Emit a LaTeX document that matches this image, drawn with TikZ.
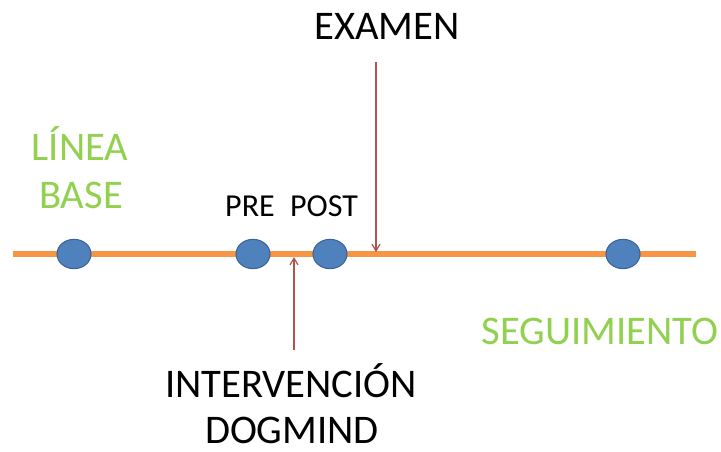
\documentclass[tikz,border=0pt]{standalone}
\usepackage{fontspec}
\setmainfont{Carlito}
\usetikzlibrary{shapes.geometric,arrows.meta}
\definecolor{lineorange}{HTML}{F79646}
\definecolor{dotblue}{HTML}{4F81BD}
\definecolor{dotedge}{HTML}{3A6494}
\definecolor{arrowred}{HTML}{B4504E}
\definecolor{labelgreen}{HTML}{92D050}
\tikzset{
  dot/.style={ellipse, fill=dotblue, draw=dotedge, line width=0.8pt, minimum width=25.5pt, minimum height=22pt, inner sep=0pt},
  pointer/.style={draw=arrowred, line width=0.9pt, -{Straight Barb[length=5pt,width=6pt]}},
  biglabel/.style={font=\fontsize{30.5}{33}\selectfont, anchor=base, inner sep=0pt},
  smalllabel/.style={font=\fontsize{24}{26}\selectfont, anchor=base, inner sep=0pt},
}
\begin{document}
\begin{tikzpicture}[x=0.75pt,y=-0.75pt]
\useasboundingbox (0,0) rectangle (721,451);
% timeline
\coordinate (lstart) at (13,254);
\coordinate (lend) at (696,254);
\draw[lineorange, line width=4.5pt] (lstart) -- (lend);
% dots
\node[dot] (d1) at (74,254) {};
\node[dot] (d2) at (253,254) {};
\node[dot] (d3) at (330,254) {};
\node[dot] (d4) at (623,254) {};
% labels
\node[biglabel] (examen) at (387,39) {EXAMEN};
\node[smalllabel] (pre) at (250,216) {PRE};
\node[smalllabel] (post) at (324,216) {POST};
\node[biglabel, text=labelgreen] (linea) at (80,160) {LÍNEA};
\node[biglabel, text=labelgreen] (base) at (81,208) {BASE};
\node[biglabel, text=labelgreen] (seg) at (600,344) {SEGUIMIENTO};
\node[biglabel] (interv) at (291,397) {INTERVENCIÓN};
\node[biglabel] (dogmind) at (292,443) {DOGMIND};
% arrows
\coordinate (extop) at (376,62);
\coordinate (exbot) at (376,252);
\draw[pointer] (extop) -- (exbot);
\coordinate (inbot) at (294,350);
\coordinate (intop) at (294,257);
\draw[pointer] (inbot) -- (intop);
\end{tikzpicture}
\end{document}
